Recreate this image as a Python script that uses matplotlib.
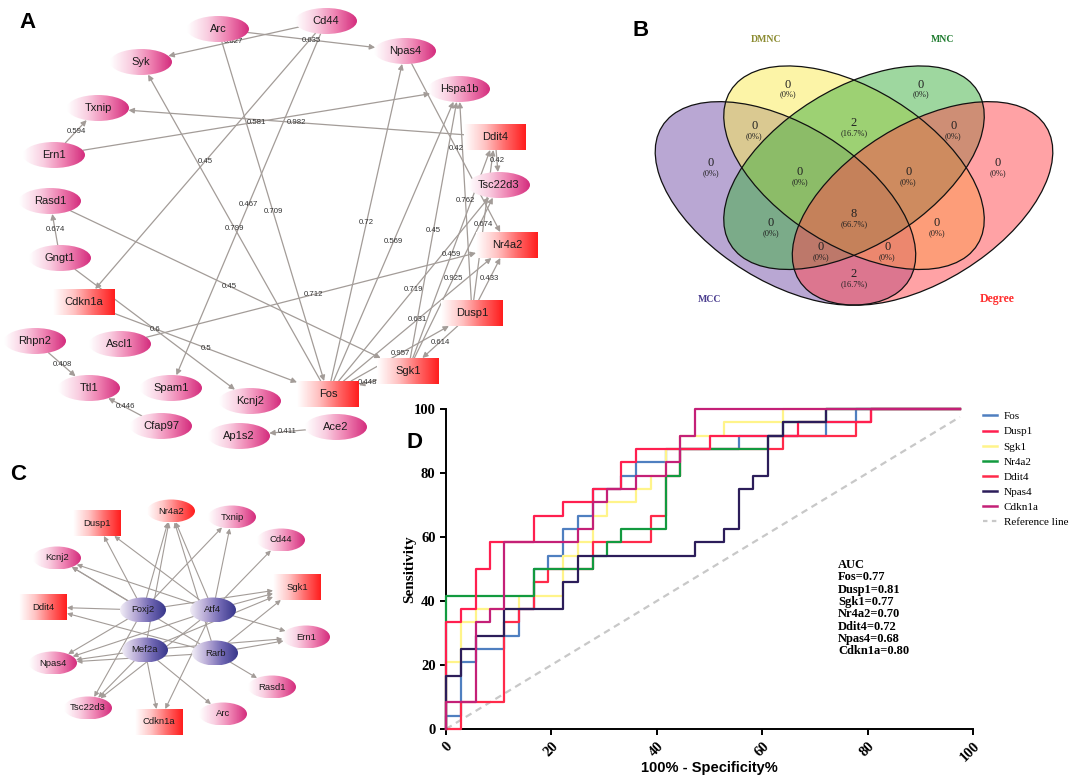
import numpy as np
import matplotlib
matplotlib.use('Agg')
import matplotlib.pyplot as plt
from matplotlib.patches import Ellipse, Rectangle, FancyArrowPatch
from matplotlib.colors import LinearSegmentedColormap
from matplotlib.lines import Line2D

# ---------------- data ----------------
# Panel A network (node name, shape) and edges with weights
a_names = ['Arc', 'Cd44', 'Syk', 'Npas4', 'Hspa1b', 'Txnip', 'Ddit4', 'Ern1', 'Tsc22d3',
           'Rasd1', 'Nr4a2', 'Gngt1', 'Cdkn1a', 'Dusp1', 'Rhpn2', 'Ascl1', 'Sgk1', 'Ttl1',
           'Spam1', 'Kcnj2', 'Fos', 'Cfap97', 'Ap1s2', 'Ace2']
a_rects = ['Ddit4', 'Nr4a2', 'Cdkn1a', 'Dusp1', 'Sgk1', 'Fos']
a_src = ['Cd44', 'Arc', 'Arc', 'Cd44', 'Cd44', 'Fos', 'Ddit4', 'Ern1', 'Ern1', 'Gngt1',
         'Rasd1', 'Gngt1', 'Cdkn1a', 'Ascl1', 'Rhpn2', 'Cfap97', 'Ace2', 'Fos', 'Fos',
         'Sgk1', 'Dusp1', 'Npas4', 'Ddit4', 'Dusp1', 'Sgk1', 'Sgk1', 'Fos', 'Fos', 'Dusp1',
         'Dusp1', 'Fos', 'Sgk1']
a_dst = ['Syk', 'Npas4', 'Fos', 'Cdkn1a', 'Spam1', 'Syk', 'Txnip', 'Hspa1b', 'Txnip', 'Rasd1',
         'Sgk1', 'Kcnj2', 'Fos', 'Nr4a2', 'Ttl1', 'Ttl1', 'Ap1s2', 'Npas4', 'Hspa1b',
         'Hspa1b', 'Hspa1b', 'Nr4a2', 'Tsc22d3', 'Ddit4', 'Ddit4', 'Tsc22d3', 'Tsc22d3',
         'Nr4a2', 'Nr4a2', 'Sgk1', 'Dusp1', 'Fos']
a_w = ['0.627', '0.635', '0.709', '0.45', '0.467', '0.799', '0.982', '0.581', '0.594', '0.674',
       '0.45', '0.6', '0.5', '0.712', '0.408', '0.446', '0.411', '0.72', '0.569', '0.45',
       '0.762', '0.42', '0.42', '0.674', '0.459', '0.925', '0.719', '0.631', '0.433', '0.614',
       '0.957', '0.448']

# Panel C regulatory network
c_names = ['Dusp1', 'Nr4a2', 'Txnip', 'Cd44', 'Kcnj2', 'Sgk1', 'Ddit4', 'Foxj2', 'Atf4', 'Ern1',
           'Mef2a', 'Rarb', 'Npas4', 'Rasd1', 'Tsc22d3', 'Cdkn1a', 'Arc']
c_rects = ['Dusp1', 'Sgk1', 'Ddit4', 'Cdkn1a']
c_hubs = ['Foxj2', 'Atf4', 'Mef2a', 'Rarb']
c_src = ['Foxj2', 'Atf4', 'Foxj2', 'Atf4', 'Mef2a', 'Rarb', 'Foxj2', 'Atf4', 'Atf4', 'Atf4',
         'Foxj2', 'Rarb', 'Atf4', 'Foxj2', 'Mef2a', 'Rarb', 'Foxj2', 'Rarb', 'Atf4', 'Mef2a',
         'Rarb', 'Foxj2', 'Atf4', 'Mef2a', 'Rarb', 'Rarb', 'Foxj2', 'Atf4', 'Mef2a', 'Mef2a',
         'Atf4', 'Mef2a']
c_dst = ['Dusp1', 'Dusp1', 'Nr4a2', 'Nr4a2', 'Nr4a2', 'Nr4a2', 'Txnip', 'Txnip', 'Cd44', 'Kcnj2',
         'Kcnj2', 'Kcnj2', 'Sgk1', 'Sgk1', 'Sgk1', 'Sgk1', 'Ddit4', 'Ddit4', 'Ern1', 'Ern1',
         'Ern1', 'Npas4', 'Npas4', 'Npas4', 'Npas4', 'Rasd1', 'Tsc22d3', 'Tsc22d3', 'Tsc22d3',
         'Cdkn1a', 'Cdkn1a', 'Arc']

# Panel B Venn
venn_sets = ['MCC', 'DMNC', 'MNC', 'Degree']
venn_counts = [0, 0, 0, 0, 0, 2, 0, 0, 0, 0, 8, 0, 0, 0, 2]
venn_pcts = ['(0%)', '(0%)', '(0%)', '(0%)', '(0%)', '(16.7%)', '(0%)', '(0%)', '(0%)', '(0%)',
             '(66.7%)', '(0%)', '(0%)', '(0%)', '(16.7%)']

# Panel D ROC curves (step corners, %)
fos_x = [0, 0, 2.8, 5.6, 11.1, 13.9, 16.7, 19.4, 22.2, 25.0, 27.8, 33.3, 36.1, 41.7, 55.6, 72.2, 77.8, 97.5]
fos_y = [0, 4.2, 20.8, 25.0, 29.2, 37.5, 50.0, 54.2, 62.5, 66.7, 75.0, 79.2, 83.3, 87.5, 91.7, 95.8, 100, 100]
dusp1_x = [0, 0, 2.8, 5.6, 8.3, 16.7, 22.2, 27.8, 33.3, 36.1, 50.0, 66.7, 80.6, 97.5]
dusp1_y = [0, 33.3, 37.5, 50.0, 58.3, 66.7, 70.8, 75.0, 83.3, 87.5, 91.7, 95.8, 100, 100]
sgk1_x = [0, 0, 2.8, 5.6, 13.9, 22.2, 25.0, 27.8, 30.6, 36.1, 38.9, 41.7, 44.4, 52.8, 63.9, 97.5]
sgk1_y = [0, 20.8, 33.3, 37.5, 41.7, 54.2, 58.3, 66.7, 70.8, 75.0, 79.2, 87.5, 91.7, 95.8, 100, 100]
nr4a2_x = [0, 0, 16.7, 27.8, 30.6, 33.3, 41.7, 44.4, 61.1, 63.9, 72.2, 97.5]
nr4a2_y = [0, 41.7, 50.0, 54.2, 58.3, 62.5, 79.2, 87.5, 91.7, 95.8, 100, 100]
ddit4_x = [0, 2.8, 11.1, 13.9, 16.7, 19.4, 27.8, 38.9, 41.7, 44.4, 63.9, 77.8, 80.6, 97.5]
ddit4_y = [0, 8.3, 33.3, 37.5, 45.8, 50.0, 58.3, 66.7, 79.2, 87.5, 91.7, 95.8, 100, 100]
npas4_x = [0, 0, 2.8, 5.6, 11.1, 22.2, 25.0, 47.2, 52.8, 55.6, 58.3, 61.1, 63.9, 72.2, 97.5]
npas4_y = [0, 16.7, 25.0, 29.2, 37.5, 45.8, 54.2, 58.3, 62.5, 75.0, 79.2, 91.7, 95.8, 100, 100]
cdkn1a_x = [0, 0, 5.6, 8.3, 11.1, 25.0, 27.8, 30.6, 36.1, 41.7, 44.4, 47.2, 97.5]
cdkn1a_y = [0, 8.3, 33.3, 37.5, 58.3, 62.5, 70.8, 75.0, 79.2, 83.3, 91.7, 100, 100]
ref_x = [0, 97.5]
ref_y = [0, 97.5]
auc_genes = ['Fos', 'Dusp1', 'Sgk1', 'Nr4a2', 'Ddit4', 'Npas4', 'Cdkn1a']
auc_vals = ['0.77', '0.81', '0.77', '0.70', '0.72', '0.68', '0.80']

# ---------------- layout (pixel positions) ----------------
a_xy = {'Arc': (218, 29), 'Cd44': (326, 21), 'Syk': (141, 62), 'Npas4': (405, 51),
        'Hspa1b': (459, 89), 'Txnip': (98, 108), 'Ddit4': (495, 137), 'Ern1': (54, 155),
        'Tsc22d3': (499, 185), 'Rasd1': (50, 201), 'Nr4a2': (507, 245), 'Gngt1': (60, 258),
        'Cdkn1a': (84, 302), 'Dusp1': (472, 313), 'Rhpn2': (35, 341), 'Ascl1': (120, 344),
        'Sgk1': (408, 371), 'Ttl1': (89, 388), 'Spam1': (171, 388), 'Kcnj2': (250, 401),
        'Fos': (328, 394), 'Cfap97': (161, 426), 'Ap1s2': (239, 436), 'Ace2': (336, 427)}
c_xy = {'Dusp1': (97, 523), 'Nr4a2': (171, 511), 'Txnip': (232, 517), 'Cd44': (281, 540),
        'Kcnj2': (57, 558), 'Sgk1': (297, 587), 'Ddit4': (43, 607), 'Foxj2': (143, 610),
        'Atf4': (213, 610), 'Ern1': (306, 637), 'Mef2a': (145, 650), 'Rarb': (215, 653),
        'Npas4': (53, 663), 'Rasd1': (272, 687), 'Tsc22d3': (88, 708), 'Cdkn1a': (159, 722),
        'Arc': (223, 714)}

W, H = 1072, 781
fig = plt.figure(figsize=(W / 100, H / 100), dpi=100)
fig.patch.set_facecolor('white')

pink = LinearSegmentedColormap.from_list('pink', ['#FFFFFF', '#F9CDE0', '#EE7FB0', '#D42E7E'])
red = LinearSegmentedColormap.from_list('red', ['#FFFFFF', '#FFC4C4', '#FF6A6A', '#FF1E1E'])
hub = LinearSegmentedColormap.from_list('hub', ['#F0ECF6', '#B7AAD6', '#6F66B2', '#39388C'])
grad = np.linspace(0, 1, 80).reshape(1, -1)

net = fig.add_axes([0, 0, 1, 1])
net.set_xlim(0, W)
net.set_ylim(H, 0)
net.axis('off')

edge_col = '#A39C98'


def draw_node(x, y, w, h, is_rect, cmap, label, fs):
    if is_rect:
        patch = Rectangle((x - w / 2, y - h / 2), w, h, fc='none', ec='none')
    else:
        patch = Ellipse((x, y), w, h, fc='none', ec='none')
    net.add_patch(patch)
    im = net.imshow(grad, cmap=cmap, extent=(x - w / 2, x + w / 2, y + h / 2, y - h / 2),
                    aspect='auto', interpolation='bilinear', zorder=3)
    im.set_clip_path(patch)
    net.text(x, y, label, ha='center', va='center', fontsize=fs, zorder=4,
             family='Liberation Sans', color='#1a1a1a')


def reach(w, h, is_rect, ux, uy):
    a, b = w / 2, h / 2
    if is_rect:
        tx = a / abs(ux) if abs(ux) > 1e-9 else 1e9
        ty = b / abs(uy) if abs(uy) > 1e-9 else 1e9
        return min(tx, ty)
    return 1 / np.sqrt((ux / a) ** 2 + (uy / b) ** 2)


def draw_edge(p0, s0, p1, s1, label=None, ms=8, lw=0.9):
    dx, dy = p1[0] - p0[0], p1[1] - p0[1]
    L = np.hypot(dx, dy)
    ux, uy = dx / L, dy / L
    t0 = reach(s0[0], s0[1], s0[2], ux, uy)
    t1 = reach(s1[0], s1[1], s1[2], ux, uy)
    a = (p0[0] + ux * t0, p0[1] + uy * t0)
    b = (p1[0] - ux * t1, p1[1] - uy * t1)
    arr = FancyArrowPatch(a, b, arrowstyle='-|>', mutation_scale=ms, color=edge_col,
                          lw=lw, shrinkA=0, shrinkB=0, zorder=2)
    net.add_patch(arr)
    if label:
        net.text((p0[0] + p1[0]) / 2, (p0[1] + p1[1]) / 2, label, fontsize=5.6,
                 ha='center', va='center', color='#333333', zorder=2.5,
                 family='Liberation Sans')


# ---- Panel A ----
aw, ah = 62, 26
a_size = {n: (aw, ah, n in a_rects) for n in a_names}
for s, d, w in zip(a_src, a_dst, a_w):
    draw_edge(a_xy[s], a_size[s], a_xy[d], a_size[d], label=w)
for n in a_names:
    x, y = a_xy[n]
    draw_node(x, y, aw, ah, n in a_rects, red if n in a_rects else pink, n, 8)

# ---- Panel C ----
c_size = {}
for n in c_names:
    if n in c_hubs:
        c_size[n] = (46, 25, False)
    elif n in c_rects:
        c_size[n] = (48, 26, True)
    else:
        c_size[n] = (48, 23, False)
for s, d in zip(c_src, c_dst):
    draw_edge(c_xy[s], c_size[s], c_xy[d], c_size[d], ms=7, lw=0.8)
for n in c_names:
    x, y = c_xy[n]
    w, h, r = c_size[n]
    cm = hub if n in c_hubs else (red if (r or n == 'Nr4a2') else pink)
    draw_node(x, y, w, h, r, cm, n, 6.8)

# panel letters
for lab, (px, py) in zip('ABCD', [(27, 22), (641, 30), (18, 475), (415, 442)]):
    fig.text(px / W, 1 - py / H, lab, fontsize=16, fontweight='bold', family='Liberation Sans',
             ha='center', va='center')

# ---- Panel B: Venn ----
axb = fig.add_axes([643.8 / W, 1 - 335.5 / H, 420.4 / W, 321.3 / H])
axb.set_xlim(0.04, 0.96)
axb.set_ylim(0.1, 1.0)
axb.axis('off')
v_cent = [(0.35, 0.47), (0.5, 0.57), (0.5, 0.57), (0.65, 0.47)]
v_ang = [-45, -45, 45, 45]
v_fill = ['#7550A8', '#FBEB50', '#3FB040', '#FF474D']
for c, ang, col in zip(v_cent, v_ang, v_fill):
    axb.add_patch(Ellipse(c, 0.7, 0.4, angle=ang, fc=col, alpha=0.5, ec='none'))
for c, ang in zip(v_cent, v_ang):
    axb.add_patch(Ellipse(c, 0.7, 0.4, angle=ang, fc='none', ec='#111111', lw=0.9))
v_lab = [(0.355, 0.797), (0.646, 0.797), (0.186, 0.578), (0.814, 0.578), (0.282, 0.680),
         (0.5, 0.688), (0.717, 0.680), (0.382, 0.552), (0.619, 0.552), (0.318, 0.408),
         (0.5, 0.435), (0.681, 0.408), (0.427, 0.342), (0.573, 0.342), (0.5, 0.267)]
for (u, v), cnt, pc in zip(v_lab, venn_counts, venn_pcts):
    axb.text(u, v + 0.006, str(cnt), ha='center', va='center', fontsize=9,
             family='Liberation Serif', color='#222222')
    axb.text(u, v - 0.022, pc, ha='center', va='center', fontsize=6,
             family='Liberation Serif', color='#222222')
set_pos = [(0.185, 0.202), (0.307, 0.928), (0.693, 0.928), (0.813, 0.202)]
set_col = ['#4B3E8F', '#8B8B30', '#1E7B2E', '#FF2E2E']
set_fs = [7, 7, 7, 8.5]
for nm, (u, v), col, fs in zip(venn_sets, set_pos, set_col, set_fs):
    axb.text(u, v, nm, ha='center', va='center', fontsize=fs, family='Liberation Serif',
             color=col, fontweight='bold')

# ---- Panel D: ROC ----
axd = fig.add_axes([446 / W, 1 - 729 / H, 527 / W, 320 / H])
curves = [
    ('Fos', fos_x, fos_y, '#4F7FC0', 1),
    ('Sgk1', sgk1_x, sgk1_y, '#FFF48A', 2),
    ('Ddit4', ddit4_x, ddit4_y, '#FF2A4A', 3),
    ('Nr4a2', nr4a2_x, nr4a2_y, '#129A3F', 4),
    ('Dusp1', dusp1_x, dusp1_y, '#FF1F4F', 5),
    ('Npas4', npas4_x, npas4_y, '#2C1D5A', 6),
    ('Cdkn1a', cdkn1a_x, cdkn1a_y, '#C42077', 7),
]
handles = {}
axd.plot(ref_x, ref_y, color='#C8C8C8', lw=1.6, ls=(0, (3, 2.2)), zorder=0.5)
for name, xs, ys, col, z in curves:
    axd.plot(xs, ys, drawstyle='steps-post', color=col, lw=1.6, zorder=z, clip_on=False)
    handles[name] = Line2D([], [], color=col, lw=1.8)
handles['Reference line'] = Line2D([], [], color='#C8C8C8', lw=1.6, ls=(0, (2, 2)))
order = ['Fos', 'Dusp1', 'Sgk1', 'Nr4a2', 'Ddit4', 'Npas4', 'Cdkn1a', 'Reference line']
fig.legend([handles[k] for k in order], order, loc='upper left',
           bbox_to_anchor=(977 / W, 1 - 406 / H), frameon=False, borderpad=0,
           handlelength=1.26, handletextpad=0.63, labelspacing=0.48,
           prop={'family': 'Liberation Serif', 'size': 8})

axd.set_xlim(0, 100)
axd.set_ylim(0, 100)
axd.set_xticks([0, 20, 40, 60, 80, 100])
axd.set_yticks([0, 20, 40, 60, 80, 100])
for sp in ['top', 'right']:
    axd.spines[sp].set_visible(False)
for sp in ['left', 'bottom']:
    axd.spines[sp].set_linewidth(1.4)
axd.tick_params(width=1.4, length=4, direction='out')
for t in axd.get_yticklabels():
    t.set_fontfamily('Liberation Serif')
    t.set_fontweight('bold')
    t.set_fontsize(10.5)
for t in axd.get_xticklabels():
    t.set_fontfamily('Liberation Serif')
    t.set_fontweight('bold')
    t.set_fontsize(10.5)
    t.set_rotation(45)
    t.set_ha('right')
    t.set_va('top')
    t.set_rotation_mode('anchor')
fig.text(410 / W, 1 - 569 / H, 'Sensitivity', rotation=90, fontsize=11, fontweight='bold',
         family='Liberation Serif', ha='center', va='center')
fig.text(709.5 / W, 1 - 768 / H, '100% - Specificity%', fontsize=10.5, fontweight='bold',
         family='Liberation Sans', ha='center', va='center')

auc_lines = ['AUC'] + [g + '=' + v for g, v in zip(auc_genes, auc_vals)]
for i, line in enumerate(auc_lines):
    fig.text(838 / W, 1 - (565 + 12.3 * i) / H, line, fontsize=9, fontweight='bold',
             family='Liberation Serif', va='center', ha='left')

fig.savefig('out.png', dpi=100)
